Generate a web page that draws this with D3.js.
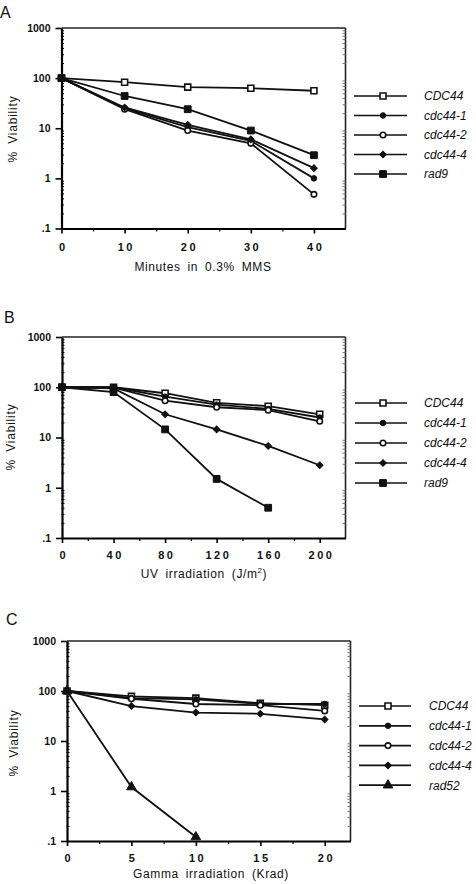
<!DOCTYPE html>
<html>
<meta charset="utf-8">
<style>
  body { margin: 0; background: #fff; }
  text { font-family: "Liberation Sans", Arial, Helvetica, sans-serif; fill: #111; }
</style>
<body>
<script src="https://d3js.org/d3.v7.min.js"></script>
<script>
  // panel A: minutes in 0.3% MMS
  var mmsMinutes = [0, 10, 20, 30, 40];
  var mmsCDC44   = [100, 83, 66, 63, 56];
  var mmsCdc44_1 = [100, 25, 10.5, 5.6, 1.0];
  var mmsCdc44_2 = [100, 24, 9, 5, 0.48];
  var mmsCdc44_4 = [100, 26, 11.7, 6, 1.6];
  var mmsRad9    = [100, 44, 24, 9, 2.9];

  // panel B: UV irradiation (J/m2)
  var uvDose     = [0, 40, 80, 120, 160, 200];
  var uvCDC44    = [100, 100, 76, 49, 42, 29];
  var uvCdc44_1  = [100, 100, 65, 45, 37, 25];
  var uvCdc44_2  = [100, 98, 54, 40, 35, 21];
  var uvCdc44_4  = [100, 95, 29, 14.5, 6.8, 2.8];
  var uvRad9Dose = [0, 40, 80, 120, 160];
  var uvRad9     = [100, 80, 14.5, 1.5, 0.4];

  // panel C: gamma irradiation (Krad)
  var gammaDose      = [0, 5, 10, 15, 20];
  var gammaCDC44     = [100, 78, 72, 57, 52];
  var gammaCdc44_1   = [100, 72, 68, 55, 55];
  var gammaCdc44_2   = [100, 70, 55, 52, 40];
  var gammaCdc44_4   = [100, 50, 37, 35, 27];
  var gammaRad52Dose = [0, 5, 10];
  var gammaRad52     = [100, 1.2, 0.12];

  var yTicks = [0.1, 1, 10, 100, 1000];
  var yTickLabels = [".1", "1", "10", "100", "1000"];

  // marker styles
  var openSquare  = {type: d3.symbolSquare,   size: 36, open: true,  rot: 0};
  var fillCircle  = {type: d3.symbolCircle,   size: 24, open: false, rot: 0};
  var openCircle  = {type: d3.symbolCircle,   size: 24, open: true,  rot: 0};
  var fillDiamond = {type: d3.symbolSquare,   size: 22, open: false, rot: 45};
  var fillSquare  = {type: d3.symbolSquare,   size: 46, open: false, rot: 0};
  var fillTri     = {type: d3.symbolTriangle, size: 40, open: false, rot: 0};

  var panels = [
    {letter: "A", lx: 0, ly: 18, x0: 61.5, x1: 345.5, top: 28, bottom: 228.5, xMax: 45,
     xTicks: mmsMinutes, xMinor: [5, 15, 25, 35], pad: 10,
     title: ["Minutes in 0.3% MMS"], titleX: 203, titleY: 271, yLabX: 13, yLabY: 129,
     legY: 96, legStep: 19.5, legX0: 354, legX1: 407, legM: 383, legT: 424,
     series: [
       {name: "CDC44",   x: mmsMinutes, y: mmsCDC44,   m: openSquare},
       {name: "cdc44-1", x: mmsMinutes, y: mmsCdc44_1, m: fillCircle},
       {name: "cdc44-2", x: mmsMinutes, y: mmsCdc44_2, m: openCircle},
       {name: "cdc44-4", x: mmsMinutes, y: mmsCdc44_4, m: fillDiamond},
       {name: "rad9",    x: mmsMinutes, y: mmsRad9,    m: fillSquare}
     ]},
    {letter: "B", lx: 4, ly: 323, x0: 62, x1: 345.5, top: 337, bottom: 538, xMax: 220,
     xTicks: uvDose, xMinor: [20, 60, 100, 140, 180], pad: 8,
     title: ["UV irradiation (J/m", "2", ")"], titleX: 204, titleY: 578, yLabX: 11, yLabY: 437,
     legY: 403, legStep: 20, legX0: 355, legX1: 407, legM: 383, legT: 424,
     series: [
       {name: "CDC44",   x: uvDose,     y: uvCDC44,   m: openSquare},
       {name: "cdc44-1", x: uvDose,     y: uvCdc44_1, m: fillCircle},
       {name: "cdc44-2", x: uvDose,     y: uvCdc44_2, m: openCircle},
       {name: "cdc44-4", x: uvDose,     y: uvCdc44_4, m: fillDiamond},
       {name: "rad9",    x: uvRad9Dose, y: uvRad9,    m: fillSquare}
     ]},
    {letter: "C", lx: 6, ly: 625, x0: 67, x1: 350.5, top: 641, bottom: 841, xMax: 22,
     xTicks: gammaDose, xMinor: [2.5, 7.5, 12.5, 17.5], pad: 8,
     title: ["Gamma irradiation (Krad)"], titleX: 211, titleY: 878, yLabX: 14, yLabY: 743,
     legY: 706, legStep: 19.8, legX0: 359, legX1: 411, legM: 388, legT: 429,
     series: [
       {name: "CDC44",   x: gammaDose,      y: gammaCDC44,   m: openSquare},
       {name: "cdc44-1", x: gammaDose,      y: gammaCdc44_1, m: fillCircle},
       {name: "cdc44-2", x: gammaDose,      y: gammaCdc44_2, m: openCircle},
       {name: "cdc44-4", x: gammaDose,      y: gammaCdc44_4, m: fillDiamond},
       {name: "rad52",   x: gammaRad52Dose, y: gammaRad52,   m: fillTri}
     ]}
  ];

  var svg = d3.select("body").append("svg")
      .attr("width", 476).attr("height", 884);

  // minor log ticks 2..9 per decade
  var minorY = [];
  for (var k = -1; k < 3; k++)
    for (var j = 2; j <= 9; j++) minorY.push(j * Math.pow(10, k));

  function drawMarker(g, m, cx, cy) {
    g.append("path")
      .attr("d", d3.symbol().type(m.type).size(m.size)())
      .attr("transform", "translate(" + cx + "," + cy + ") rotate(" + m.rot + ")")
      .attr("fill", m.open ? "#fff" : "#111")
      .attr("stroke", "#111")
      .attr("stroke-width", m.open ? 1.6 : 1);
  }

  panels.forEach(function(p) {
    var g = svg.append("g");
    var x = d3.scaleLinear().domain([0, p.xMax]).range([p.x0, p.x1]);
    var y = d3.scaleLog().domain([0.1, 1000]).range([p.bottom, p.top]);

    g.append("text").attr("x", p.lx).attr("y", p.ly)
      .style("font-size", "16px").text(p.letter);

    // box
    g.append("line").attr("x1", p.x0).attr("x2", p.x1).attr("y1", p.top).attr("y2", p.top)
      .attr("stroke", "#222").attr("stroke-width", 1.6);
    g.append("line").attr("x1", p.x1).attr("x2", p.x1).attr("y1", p.top).attr("y2", p.bottom)
      .attr("stroke", "#222").attr("stroke-width", 1.6);

    // minor y ticks, left and right
    var yMinorAx = d3.axisLeft(y).tickValues(minorY).tickSize(3).tickFormat("");
    g.append("g").attr("transform", "translate(" + (p.x0 + 2.5) + ",0)").call(yMinorAx)
      .call(function(s) { s.select(".domain").remove(); s.selectAll("line").attr("stroke-width", 1); });
    g.append("g").attr("transform", "translate(" + p.x1 + ",0)").call(yMinorAx)
      .call(function(s) { s.select(".domain").remove(); s.selectAll("line").attr("stroke", "#777"); });

    // major y axis
    var yAx = d3.axisLeft(y).tickValues(yTicks)
      .tickFormat(function(d, i) { return yTickLabels[i]; })
      .tickSize(6).tickPadding(5).tickSizeOuter(0);
    g.append("g").attr("transform", "translate(" + p.x0 + ",0)").call(yAx)
      .call(function(s) {
        s.select(".domain").attr("stroke-width", 2.2);
        s.selectAll("line").attr("stroke-width", 1.6);
        s.selectAll("text").style("font-size", "10.5px").style("font-weight", "bold")
          .style("font-family", null).attr("fill", "#111");
      });

    // x minor ticks
    g.append("g").attr("transform", "translate(0," + p.bottom + ")")
      .call(d3.axisBottom(x).tickValues(p.xMinor).tickSize(3).tickFormat(""))
      .call(function(s) { s.select(".domain").remove(); s.selectAll("line").attr("stroke-width", 1.2); });

    // x major axis
    g.append("g").attr("transform", "translate(0," + p.bottom + ")")
      .call(d3.axisBottom(x).tickValues(p.xTicks).tickSize(5).tickPadding(p.pad).tickSizeOuter(0))
      .call(function(s) {
        s.select(".domain").attr("stroke-width", 2.2);
        s.selectAll("line").attr("stroke-width", 1.6);
        s.selectAll("text").style("font-size", "11px").style("font-weight", "bold")
          .style("font-family", null)
          .style("letter-spacing", "2.5px").attr("dx", "1.2px").attr("fill", "#111");
      });

    // axis titles
    var t = g.append("text").attr("x", p.titleX).attr("y", p.titleY)
      .attr("text-anchor", "middle").style("font-size", "12px").style("letter-spacing", "0.6px")
      .style("word-spacing", "3px");
    t.append("tspan").text(p.title[0]);
    if (p.title.length > 1) {
      t.append("tspan").attr("dy", "-5").style("font-size", "8px").text(p.title[1]);
      t.append("tspan").attr("dy", "5").text(p.title[2]);
    }
    g.append("text")
      .attr("transform", "translate(" + p.yLabX + "," + p.yLabY + ") rotate(-90)")
      .attr("text-anchor", "middle").attr("dy", "0.35em")
      .style("font-size", "12px").style("letter-spacing", "0.8px").style("word-spacing", "3px")
      .text("% Viability");

    // data
    var line = d3.line().x(function(d) { return x(d[0]); }).y(function(d) { return y(d[1]); });
    p.series.forEach(function(s) {
      var pts = d3.zip(s.x, s.y);
      g.append("path").datum(pts).attr("d", line)
        .attr("fill", "none").attr("stroke", "#111").attr("stroke-width", 1.8);
    });
    p.series.forEach(function(s) {
      d3.zip(s.x, s.y).forEach(function(d) { drawMarker(g, s.m, x(d[0]), y(d[1])); });
    });

    // legend
    p.series.forEach(function(s, i) {
      var ly = p.legY + i * p.legStep;
      g.append("line").attr("x1", p.legX0).attr("x2", p.legX1).attr("y1", ly).attr("y2", ly)
        .attr("stroke", "#111").attr("stroke-width", 1.7);
      drawMarker(g, s.m, p.legM, ly);
      g.append("text").attr("x", p.legT).attr("y", ly).attr("dy", "0.36em")
        .style("font-size", "12px").style("font-style", "italic").text(s.name);
    });
  });
</script>
</body>
</html>
